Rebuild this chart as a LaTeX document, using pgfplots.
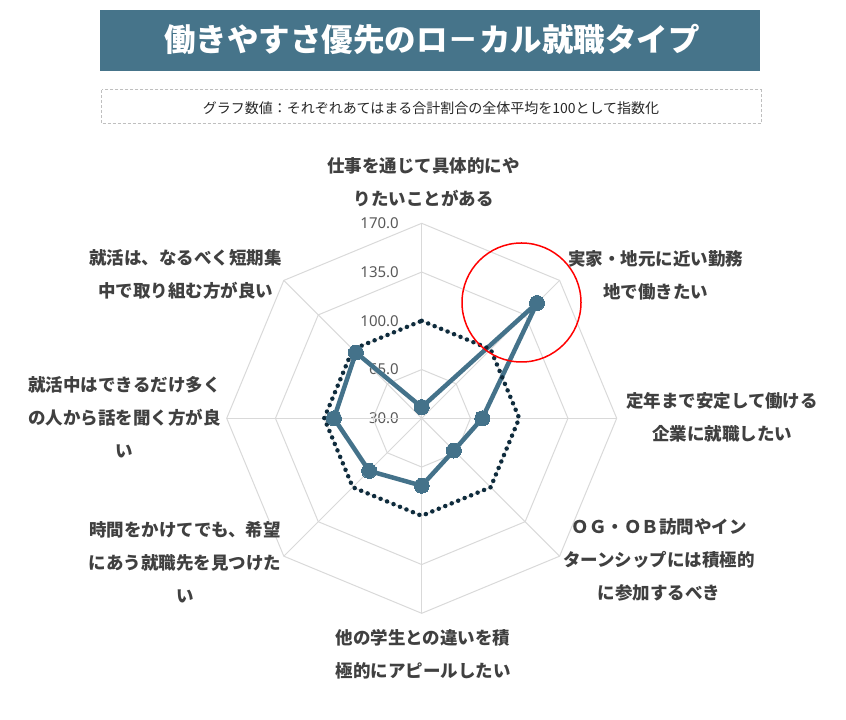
\documentclass[border=0pt]{standalone}
\usepackage{pgfplots}
\pgfplotsset{compat=1.18}
\usepgfplotslibrary{polar}
\usepackage{fontspec}
\setmainfont{Noto Sans CJK JP}
\newfontfamily\lat{Noto Sans}

\definecolor{titlebg}{HTML}{46748A}
\definecolor{series}{HTML}{44728A}
\definecolor{avg}{HTML}{0E2B3C}
\definecolor{gridc}{HTML}{D9D9D9}
\definecolor{lbl}{HTML}{404040}
\definecolor{tickc}{HTML}{595959}

\begin{document}
\begin{tikzpicture}[x=1pt,y=1pt,
    lab/.style={font=\fontsize{17.5}{33}\selectfont\bfseries, text=lbl, align=center, inner sep=0pt},
    tk/.style={font=\lat\fontsize{15}{16}\selectfont, text=tickc, anchor=east, inner sep=0pt}]
\path[use as bounding box] (0,0) rectangle (846,720);

% title
\fill[titlebg] (100,710) rectangle (760,649);
\node[font=\fontsize{31.5}{36}\selectfont\bfseries, text=white] at (432,681) {働きやすさ優先のロ－カル就職タイプ};
\draw[color=gray!50, line width=1pt, dash pattern=on 3pt off 2pt] (101.7,630) rectangle (761,596);
\node[font=\fontsize{14}{16}\selectfont, text=black!85] at (431,612) {グラフ数値：それぞれあてはまる合計割合の全体平均を100として指数化};

% radial tick labels
\node[tk] at (399,301.7) {30.0};
\node[tk] at (399,350.4) {65.0};
\node[tk] at (399,399.2) {100.0};
\node[tk] at (399,447.9) {135.0};
\node[tk] at (399,496.7) {170.0};

\begin{polaraxis}[
    hide axis,
    scale only axis,
    width=390pt, height=390pt,
    xmin=0, xmax=360,
    ymin=0, ymax=140,
    y filter/.expression={y-30},
    at={(421.7pt,301.7pt)}, anchor=center,
    clip=false,
]
% octagonal grid
\pgfplotsinvokeforeach{65,100,135,170}{
  \addplot[gridc, line width=1pt, mark=none] coordinates {
    (90,#1) (45,#1) (0,#1) (315,#1) (270,#1) (225,#1) (180,#1) (135,#1) (90,#1)};
}
\pgfplotsinvokeforeach{90,45,0,315,270,225,180,135}{
  \addplot[gridc, line width=1pt, mark=none] coordinates {(#1,30) (#1,170)};
}
% type score
\addplot[series, line width=4.5pt, line join=round, mark=*,
  mark size=7.5pt, mark options={fill=series, draw=series, line width=0pt}] coordinates {
  (90,38) (45,147.1) (0,73.5) (315,62.7) (270,78.4) (225,83.4) (180,93) (135,96.8) (90,38)};
% overall average = 100
\addplot[avg, line width=4.5pt, line cap=round, dash pattern=on 0pt off 7pt, mark=none] coordinates {
  (90,100) (45,100) (0,100) (315,100) (270,100) (225,100) (180,100) (135,100) (90,100)};
\end{polaraxis}

% category labels
\node[lab] at (423.5,538) {仕事を通じて具体的にや\\りたいことがある};
\node[lab] at (655.6,445) {実家・地元に近い勤務\\地で働きたい};
\node[lab] at (722,302.5) {定年まで安定して働ける\\企業に就職したい};
\node[lab] at (659,160) {ＯＧ・ＯＢ訪問やイン\\ターンシップには積極的\\に参加するべき};
\node[lab] at (423,66) {他の学生との違いを積\\極的にアピールしたい};
\node[lab] at (185,158) {時間をかけてでも、希望\\にあう就職先を見つけた\\い};
\node[lab] at (124.5,302.5) {就活中はできるだけ多く\\の人から話を聞く方が良\\い};
\node[lab] at (185.7,445.5) {就活は、なるべく短期集\\中で取り組む方が良い};

% highlight
\draw[red, line width=1.5pt] (521.5,417.5) circle[radius=59.5];
\end{tikzpicture}
\end{document}
